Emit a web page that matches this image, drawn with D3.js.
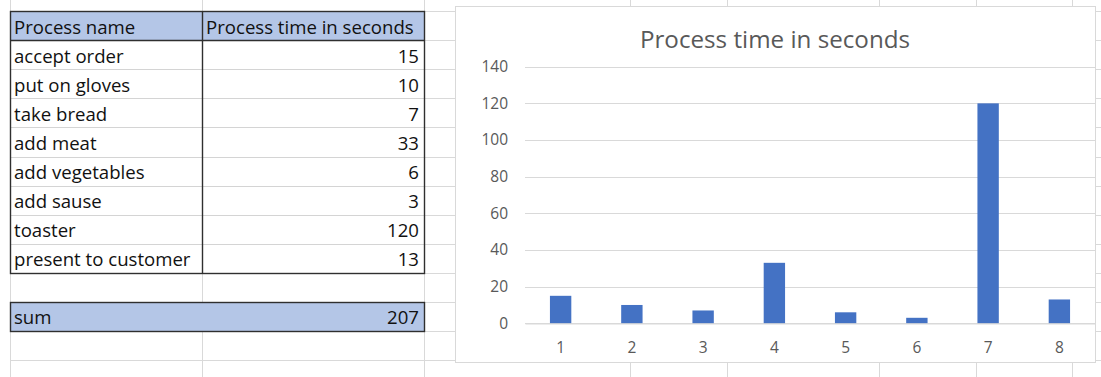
<!DOCTYPE html>
<html>
<head>
<meta charset="utf-8">
<script src="https://cdn.jsdelivr.net/npm/d3@7"></script>
<style>
  html, body { margin: 0; padding: 0; background: #fff; }
  svg { display: block; }
</style>
</head>
<body>
<svg id="sheet" width="1101" height="377"></svg>
<script>
// Sandwich-making process steps and how long each takes
const processNames = ["accept order", "put on gloves", "take bread", "add meat",
  "add vegetables", "add sause", "toaster", "present to customer"];
const processTimes = [15, 10, 7, 33, 6, 3, 120, 13];
const headerLabels = ["Process name", "Process time in seconds"];
const sumLabel = "sum";
const chartTitle = "Process time in seconds";
const stepNumbers = processNames.map((d, i) => String(i + 1));
const yTickValues = [0, 20, 40, 60, 80, 100, 120, 140];

const svg = d3.select("#sheet");
const W = 1101, H = 377;
const FONT = "'Open Sans', sans-serif";

// ---- worksheet grid ----
const rowTop = 11, rowH = 29.1;
const rowEdges = d3.range(13).map(i => rowTop + i * rowH);
const colA = 10, colB = 202, colEnd = 424;
const gridCols = [colA, colB, colEnd, 630, 727, 879, 976, 1072];
const px = v => Math.round(v) + 0.5;

const grid = svg.append("g").attr("stroke", "#d9d9d9").attr("stroke-width", 1);
grid.selectAll("line.h").data(rowEdges).join("line")
  .attr("x1", colA).attr("x2", W).attr("y1", d => px(d)).attr("y2", d => px(d));
grid.selectAll("line.v").data(gridCols).join("line")
  .attr("x1", d => px(d)).attr("x2", d => px(d)).attr("y1", 0).attr("y2", H);

// ---- table ----
const table = svg.append("g");
const fillBlue = "#b4c6e7", border = "#2f2f2f";
const yHeaderTop = rowEdges[0], yHeaderBot = rowEdges[1];
const yDataBot = rowEdges[1 + processNames.length];
const ySumTop = rowEdges[2 + processNames.length], ySumBot = rowEdges[3 + processNames.length];

table.append("rect").attr("x", colA).attr("y", yHeaderTop)
  .attr("width", colEnd - colA).attr("height", yHeaderBot - yHeaderTop).attr("fill", fillBlue);
table.append("rect").attr("x", colA).attr("y", ySumTop)
  .attr("width", colEnd - colA).attr("height", ySumBot - ySumTop).attr("fill", fillBlue);

// light row separators inside the table body
table.selectAll("line.row").data(rowEdges.slice(2, 1 + processNames.length)).join("line")
  .attr("x1", colA).attr("x2", colEnd).attr("y1", d => px(d)).attr("y2", d => px(d))
  .attr("stroke", "#d4d4d4");

const borders = table.append("g").attr("stroke", border).attr("stroke-width", 1.4).attr("fill", "none");
// header + body outline
borders.append("rect").attr("x", px(colA)).attr("y", px(yHeaderTop))
  .attr("width", colEnd - colA).attr("height", Math.round(yDataBot) - Math.round(yHeaderTop));
borders.append("line").attr("x1", px(colA)).attr("x2", px(colEnd))
  .attr("y1", px(yHeaderBot)).attr("y2", px(yHeaderBot));
borders.append("line").attr("x1", px(colB)).attr("x2", px(colB))
  .attr("y1", px(yHeaderTop)).attr("y2", px(yDataBot));
// sum row outline
borders.append("rect").attr("x", px(colA)).attr("y", px(ySumTop))
  .attr("width", colEnd - colA).attr("height", Math.round(ySumBot) - Math.round(ySumTop));

const cellText = table.append("g").attr("font-family", FONT).attr("font-size", 18.6).attr("fill", "#111");
cellText.append("text").attr("x", colA + 4).attr("y", yHeaderBot - 6.5).text(headerLabels[0]);
cellText.append("text").attr("x", colB + 4).attr("y", yHeaderBot - 6.5).text(headerLabels[1]);
cellText.selectAll("text.name").data(processNames).join("text")
  .attr("x", colA + 4).attr("y", (d, i) => rowEdges[i + 2] - 6.5).text(d => d);
cellText.selectAll("text.val").data(processTimes).join("text")
  .attr("x", colEnd - 5).attr("y", (d, i) => rowEdges[i + 2] - 6.5)
  .attr("text-anchor", "end").text(d => d);
cellText.append("text").attr("x", colA + 4).attr("y", ySumBot - 7).text(sumLabel);
cellText.append("text").attr("x", colEnd - 5).attr("y", ySumBot - 7)
  .attr("text-anchor", "end").text(d3.sum(processTimes));

// ---- chart ----
const chart = { x: 455, y: 6, w: 640, h: 356 };
const cg = svg.append("g");
cg.append("rect").attr("x", chart.x + 0.5).attr("y", chart.y + 0.5)
  .attr("width", chart.w).attr("height", chart.h)
  .attr("fill", "#fff").attr("stroke", "#d9d9d9");

cg.append("text").attr("x", 775).attr("y", 48)
  .attr("text-anchor", "middle").attr("font-family", FONT).attr("font-size", 24.2)
  .attr("fill", "#595959").text(chartTitle);

const x = d3.scaleBand().domain(stepNumbers).range([525, 1095])
  .paddingInner(0.7).paddingOuter(0.35);
const y = d3.scaleLinear().domain([0, 140]).range([323.3, 66.7]);

// horizontal gridlines
cg.append("g").selectAll("line").data(yTickValues).join("line")
  .attr("x1", x.range()[0]).attr("x2", x.range()[1])
  .attr("y1", d => px(y(d))).attr("y2", d => px(y(d)))
  .attr("stroke", "#d9d9d9");

// value axis labels
const yAxis = d3.axisLeft(y).tickValues(yTickValues).tickSize(0).tickPadding(17);
const yg = cg.append("g").attr("transform", `translate(${x.range()[0]},0)`).call(yAxis);
yg.select(".domain").remove();
yg.selectAll("text").attr("font-family", FONT).attr("font-size", 15.5).attr("fill", "#595959");

// bars
cg.append("g").selectAll("rect").data(processTimes).join("rect")
  .attr("x", (d, i) => x(stepNumbers[i]))
  .attr("width", x.bandwidth())
  .attr("y", d => y(d))
  .attr("height", d => y(0) - y(d))
  .attr("fill", "#4472c4");

// category axis
const xAxis = d3.axisBottom(x).tickSize(0).tickPadding(18);
const xg = cg.append("g").attr("transform", `translate(0,${px(y(0))})`).call(xAxis);
xg.select(".domain").attr("stroke", "#d9d9d9");
xg.selectAll("text").attr("font-family", FONT).attr("font-size", 15.5).attr("fill", "#595959");
</script>
</body>
</html>
